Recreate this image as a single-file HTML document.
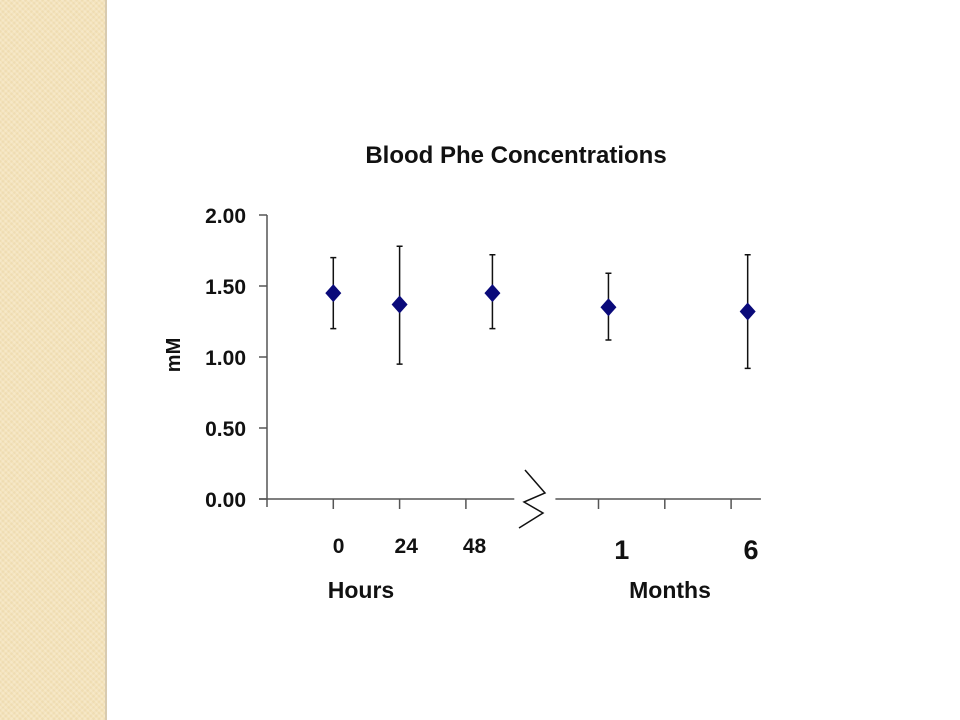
<!DOCTYPE html>
<html><head><meta charset="utf-8"><style>
html,body{margin:0;padding:0;background:#fff;}
#wrap{position:relative;width:960px;height:720px;overflow:hidden;font-family:"Liberation Sans",Arial,sans-serif;}
#side{position:absolute;left:0;top:0;width:105px;height:720px;background:#f4e3bb;
background-image:repeating-linear-gradient(45deg,rgba(255,255,255,.18) 0 2px,transparent 2px 4px),repeating-linear-gradient(-45deg,rgba(200,170,110,.12) 0 2px,transparent 2px 4px);
border-right:2px solid #d8cbb0;}
</style></head><body>
<div id="wrap">
<div id="side"></div>
<svg id="chart" width="960" height="720" style="position:absolute;left:0;top:0">
<text x="516" y="163" text-anchor="middle" font-size="24" font-weight="bold" fill="#111">Blood Phe Concentrations</text>
<text transform="translate(180,355) rotate(-90)" text-anchor="middle" font-size="20" font-weight="bold" fill="#111">mM</text>
<text x="361" y="598" text-anchor="middle" font-size="23" font-weight="bold" fill="#111">Hours</text>
<text x="670" y="598" text-anchor="middle" font-size="23" font-weight="bold" fill="#111">Months</text>
<g id="plot"></g>
</svg>
</div>
<script>
const yTicks=[0,0.5,1.0,1.5,2.0];
const yTickLabels=["0.00","0.50","1.00","1.50","2.00"];
const xTicks=[1,2,3,5,6,7];
const catLabels=["0","24","48","1","6"];
const catLabelPos=[1.08,2.1,3.13,5.35,7.3];
const xPos=[1.0,2.0,3.4,5.15,7.25];
const means=[1.45,1.37,1.45,1.35,1.32];
const upper=[1.70,1.78,1.72,1.59,1.72];
const lower=[1.20,0.95,1.20,1.12,0.92];

const X=v=>267+v*66.3;
const Y=v=>499-v*142;
const NS="http://www.w3.org/2000/svg";
const g=document.getElementById('plot');
function mk(t,a){const e=document.createElementNS(NS,t);for(const k in a)e.setAttribute(k,a[k]);g.appendChild(e);return e;}

let e=mk('line',{x1:267,y1:Y(2),x2:267,y2:Y(0)+8,stroke:'#555','stroke-width':1.5});


e=mk('line',{x1:259,y1:Y(0),x2:X(3.73),y2:Y(0),stroke:'#555','stroke-width':1.5});


e=mk('line',{x1:X(4.35),y1:Y(0),x2:X(7.45),y2:Y(0),stroke:'#555','stroke-width':1.5});


e=mk('polyline',{points:'525,470 545,493 524,502 543,513 519,528',fill:'none',stroke:'#111','stroke-width':1.5});



yTicks.forEach((v,i)=>{
 let t=mk('line',{x1:259,y1:Y(v),x2:267,y2:Y(v),stroke:'#555','stroke-width':1.5});
 
 
 let l=mk('text',{x:246,y:Y(v)+8,'text-anchor':'end','font-size':21,'font-weight':'bold',fill:'#111'});
 l.textContent=yTickLabels[i];
 
 
});
xTicks.forEach(v=>{
 let t=mk('line',{x1:X(v),y1:Y(0),x2:X(v),y2:Y(0)+10,stroke:'#555','stroke-width':1.5});
 
 
});
catLabels.forEach((s,i)=>{
 const big=i>=3;
 let l=mk('text',{x:X(catLabelPos[i]),y:big?559:553,'text-anchor':'middle','font-size':big?27:21,'font-weight':'bold',fill:'#111'});
 l.textContent=s;
 
 
});
means.forEach((m,i)=>{
 const x=X(xPos[i]);
 let b=mk('path',{d:`M${x},${Y(upper[i])}V${Y(lower[i])}M${x-3},${Y(upper[i])}H${x+3}M${x-3},${Y(lower[i])}H${x+3}`,stroke:'#111','stroke-width':1.5,fill:'none'});
 
 
 const y=Y(m);
 let p=mk('polygon',{points:`${x},${y-9} ${x+8},${y} ${x},${y+9} ${x-8},${y}`,fill:'#0a0a7a'});
 
 
});
</script>
</body></html>
